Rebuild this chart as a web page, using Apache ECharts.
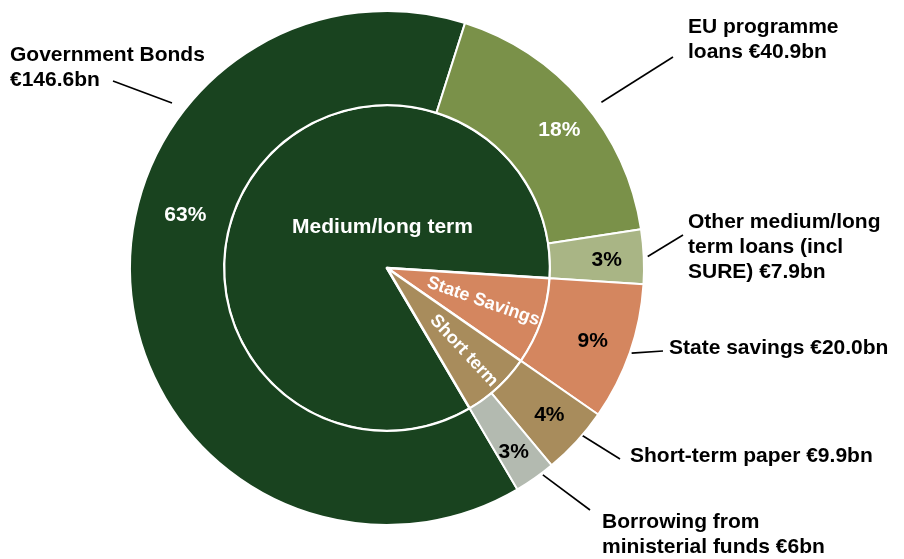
<!DOCTYPE html>
<html>
<head>
<meta charset="utf-8">
<style>
html,body{margin:0;padding:0;background:#ffffff;}
#chart{width:904px;height:559px;}
</style>
<script src="https://cdn.jsdelivr.net/npm/echarts@6.0.0/dist/echarts.min.js"></script>
</head>
<body>
<div id="chart"></div>
<script>
// ---------------- data ----------------
var outerNames = ['Government Bonds', 'EU programme loans', 'Other medium/long term loans (incl SURE)',
                  'State savings', 'Short-term paper', 'Borrowing from ministerial funds'];
var outerValues = [146.6, 40.9, 7.9, 20.0, 9.9, 6.0];
var outerLabelTexts = ['Government Bonds\n€146.6bn', 'EU programme\nloans €40.9bn',
                       'Other medium/long\nterm loans (incl\nSURE) €7.9bn', 'State savings €20.0bn',
                       'Short-term paper €9.9bn', 'Borrowing from\nministerial funds €6bn'];
var innerNames = ['Medium/long term', 'State Savings', 'Short term'];
var innerMembers = [[0, 1, 2], [3], [4, 5]];   // which outer slices make up each inner slice

// ---------------- styles ----------------
var outerColors = ['#19431f', '#7a9149', '#a9b585', '#d4865f', '#a88c5c', '#b3bab0'];
var innerColors = ['#19431f', '#d4865f', '#a88c5c'];
var pctColors = ['#ffffff', '#ffffff', '#000000', '#000000', '#000000', '#000000'];
var pctNudge = [[17, -77], [5, 5], [0, 2], [-2, 1], [0, -1], [0, 4]];
var FONT = "'Liberation Sans', Arial, Helvetica, sans-serif";
var CENTER = [387, 268];
var R_IN = 163, R_OUT = 257;
var START = 300.5;
var outerLabelPlace = [
  { x: 10,  y: 42.5,  end: [113, 81], angle: 142.5, r: 271 },
  { x: 688, y: 14.5,  end: [673, 57], angle: 37.7, r: 271 },
  { x: 688, y: 209.5, end: [683, 235], gap: 4 },
  { x: 669, y: 336,   end: [663, 351], gap: 2 },
  { x: 630, y: 444,   end: [620, 459], angle: -40.7, r: 255 },
  { x: 602, y: 510,   end: [590, 510], angle: -53, r: 259 }
];

// ---------------- derived ----------------
var innerValues = innerMembers.map(function (m) {
  return Math.round(m.reduce(function (s, i) { return s + outerValues[i]; }, 0) * 10) / 10;
});
var total = outerValues.reduce(function (a, b) { return a + b; }, 0);
var midAngles = [];
(function () {
  var cum = 0;
  outerValues.forEach(function (v) {
    midAngles.push(START - 360 * (cum + v / 2) / total);
    cum += v;
  });
})();

var clear = { color: 'rgba(0,0,0,0)', borderWidth: 0 };

var chart = echarts.init(document.getElementById('chart'), null, { renderer: 'canvas' });

var option = {
  animation: false,
  backgroundColor: '#ffffff',
  series: [
    // inner pie (visible)
    {
      type: 'pie', center: CENTER, radius: [0, R_IN], startAngle: START, clockwise: true,
      avoidLabelOverlap: false, silent: true, emphasis: { disabled: true },
      itemStyle: { borderColor: '#ffffff', borderWidth: 2.5 },
      label: { show: false },
      labelLine: { show: false },
      data: innerNames.map(function (n, i) {
        var d = { name: n, value: innerValues[i], itemStyle: { color: innerColors[i] } };
        if (i === 0) {
          d.label = { show: true, position: 'center', formatter: '{b}', color: '#ffffff',
                      fontFamily: FONT, fontWeight: 'bold', fontSize: 21 };
        }
        return d;
      }),
      labelLayout: function (p) {
        if (p.dataIndex === 0) return { dx: -4.5, dy: -41 };
        return {};
      }
    },
    // inner rotated label: State Savings
    {
      type: 'pie', center: CENTER, radius: [35, R_IN], startAngle: START, clockwise: true,
      avoidLabelOverlap: false, silent: true, emphasis: { disabled: true },
      itemStyle: clear, labelLine: { show: false },
      label: { show: false },
      data: innerNames.map(function (n, i) {
        var d = { name: n, value: innerValues[i] };
        if (i === 1) {
          d.label = { show: true, position: 'inside', rotate: 'radial', formatter: '{b}', color: '#ffffff',
                      fontFamily: FONT, fontWeight: 'bold', fontSize: 18 };
        }
        return d;
      })
    },
    // inner rotated label: Short term
    {
      type: 'pie', center: CENTER, radius: [57, R_IN], startAngle: START, clockwise: true,
      avoidLabelOverlap: false, silent: true, emphasis: { disabled: true },
      itemStyle: clear, labelLine: { show: false },
      label: { show: false },
      data: innerNames.map(function (n, i) {
        var d = { name: n, value: innerValues[i] };
        if (i === 2) {
          d.label = { show: true, position: 'inside', rotate: 'radial', formatter: '{b}', color: '#ffffff',
                      fontFamily: FONT, fontWeight: 'bold', fontSize: 18 };
        }
        return d;
      })
    },
    // outer ring (visible)
    {
      type: 'pie', center: CENTER, radius: [R_IN, R_OUT], startAngle: START, clockwise: true,
      avoidLabelOverlap: false, silent: true, emphasis: { disabled: true },
      itemStyle: { borderColor: '#ffffff', borderWidth: 2 },
      label: { show: false }, labelLine: { show: false },
      data: outerNames.map(function (n, i) {
        return { name: n, value: outerValues[i], itemStyle: { color: outerColors[i] } };
      })
    },
    // outer percentage labels
    {
      type: 'pie', center: CENTER, radius: [177, R_OUT], startAngle: START, clockwise: true,
      avoidLabelOverlap: false, silent: true, emphasis: { disabled: true },
      itemStyle: clear, labelLine: { show: false },
      label: {
        show: true, position: 'inside', fontFamily: FONT, fontWeight: 'bold', fontSize: 21,
        formatter: function (p) { return Math.round(p.value / total * 100) + '%'; }
      },
      data: outerNames.map(function (n, i) {
        return { name: n, value: outerValues[i], label: { color: pctColors[i] } };
      }),
      labelLayout: function (p) {
        var d = pctNudge[p.dataIndex];
        return { dx: d[0], dy: d[1] };
      }
    },
    // outer name labels with leader lines
    {
      type: 'pie', center: CENTER, radius: [R_IN, R_OUT], startAngle: START, clockwise: true,
      avoidLabelOverlap: false, silent: true, emphasis: { disabled: true },
      itemStyle: clear,
      label: {
        show: true, position: 'outside', color: '#000000', fontFamily: FONT, fontWeight: 'bold',
        fontSize: 21, lineHeight: 25,
        formatter: function (p) { return outerLabelTexts[p.dataIndex]; }
      },
      labelLine: { show: true, length: 20, length2: 10, lineStyle: { color: '#000000', width: 1.6 } },
      data: outerNames.map(function (n, i) { return { name: n, value: outerValues[i] }; }),
      labelLayout: function (p) {
        var pl = outerLabelPlace[p.dataIndex];
        var ang = (pl.angle != null ? pl.angle : midAngles[p.dataIndex]) * Math.PI / 180;
        var rs = pl.r != null ? pl.r : R_OUT + (pl.gap || 0);
        var s = [CENTER[0] + rs * Math.cos(ang), CENTER[1] - rs * Math.sin(ang)];
        return {
          x: pl.x, y: pl.y, align: 'left', verticalAlign: 'top',
          labelLinePoints: [s, pl.end, pl.end]
        };
      }
    }
  ]
};

chart.setOption(option);
</script>
</body>
</html>
